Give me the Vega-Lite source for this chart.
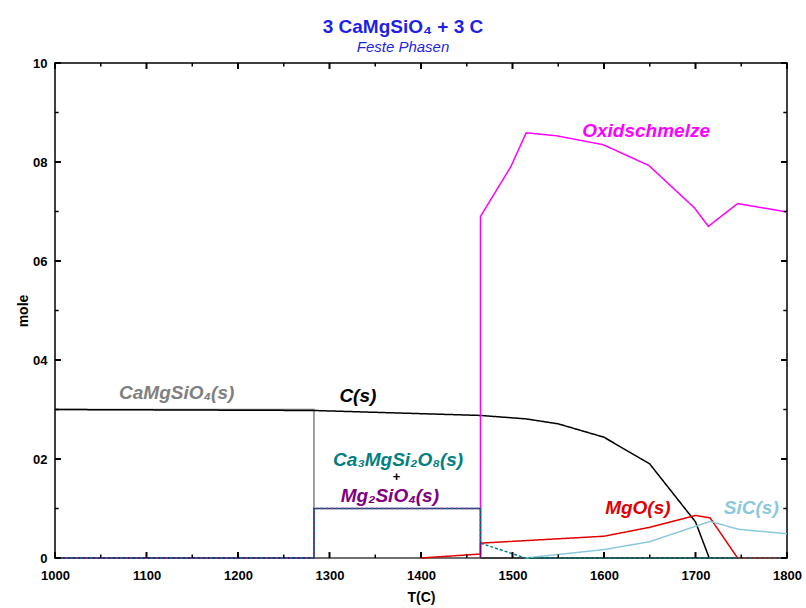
{
  "$schema": "https://vega.github.io/schema/vega-lite/v6.json",
  "width": 732,
  "height": 495,
  "autosize": {"type": "none"},
  "padding": {"left": 55, "top": 63, "right": 19, "bottom": 50},
  "background": "white",
  "title": {
    "text": "3 CaMgSiO₄ + 3 C",
    "subtitle": "Feste Phasen",
    "font": "Liberation Sans",
    "fontSize": 19,
    "fontWeight": "bold",
    "color": "#1F1FE6",
    "subtitleFont": "Liberation Sans",
    "subtitleFontSize": 15,
    "subtitleFontStyle": "italic",
    "subtitleFontWeight": "normal",
    "subtitleColor": "#1F1FE6",
    "anchor": "middle",
    "frame": "group",
    "dx": -18,
    "offset": 2,
    "subtitlePadding": 3
  },
  "datasets": {
    "lines": [
      {"s": "CaMgSiO4", "k": 0, "T": 1000, "m": 0.30},
      {"s": "CaMgSiO4", "k": 1, "T": 1283, "m": 0.30},
      {"s": "CaMgSiO4", "k": 2, "T": 1283, "m": 0},
      {"s": "CaMgSiO4", "k": 3, "T": 1465, "m": 0},
      {"s": "C", "k": 0, "T": 1000, "m": 0.30},
      {"s": "C", "k": 1, "T": 1283, "m": 0.298},
      {"s": "C", "k": 2, "T": 1465, "m": 0.288},
      {"s": "C", "k": 3, "T": 1515, "m": 0.281},
      {"s": "C", "k": 4, "T": 1550, "m": 0.271},
      {"s": "C", "k": 5, "T": 1600, "m": 0.244},
      {"s": "C", "k": 6, "T": 1650, "m": 0.19},
      {"s": "C", "k": 7, "T": 1700, "m": 0.073},
      {"s": "C", "k": 8, "T": 1715, "m": 0},
      {"s": "Oxidschmelze", "k": 0, "T": 1465, "m": 0},
      {"s": "Oxidschmelze", "k": 1, "T": 1465, "m": 0.690},
      {"s": "Oxidschmelze", "k": 2, "T": 1498, "m": 0.790},
      {"s": "Oxidschmelze", "k": 3, "T": 1515, "m": 0.859},
      {"s": "Oxidschmelze", "k": 4, "T": 1548, "m": 0.853},
      {"s": "Oxidschmelze", "k": 5, "T": 1599, "m": 0.835},
      {"s": "Oxidschmelze", "k": 6, "T": 1649, "m": 0.793},
      {"s": "Oxidschmelze", "k": 7, "T": 1699, "m": 0.707},
      {"s": "Oxidschmelze", "k": 8, "T": 1714, "m": 0.670},
      {"s": "Oxidschmelze", "k": 9, "T": 1746, "m": 0.716},
      {"s": "Oxidschmelze", "k": 10, "T": 1800, "m": 0.699},
      {"s": "MgO", "k": 0, "T": 1400, "m": 0},
      {"s": "MgO", "k": 1, "T": 1465, "m": 0.008},
      {"s": "MgO", "k": 2, "T": 1465, "m": 0.030},
      {"s": "MgO", "k": 3, "T": 1600, "m": 0.044},
      {"s": "MgO", "k": 4, "T": 1650, "m": 0.062},
      {"s": "MgO", "k": 5, "T": 1700, "m": 0.086},
      {"s": "MgO", "k": 6, "T": 1716, "m": 0.081},
      {"s": "MgO", "k": 7, "T": 1746, "m": 0},
      {"s": "MgO", "k": 8, "T": 1800, "m": 0},
      {"s": "SiC", "k": 0, "T": 1514, "m": 0},
      {"s": "SiC", "k": 1, "T": 1600, "m": 0.017},
      {"s": "SiC", "k": 2, "T": 1650, "m": 0.033},
      {"s": "SiC", "k": 3, "T": 1716, "m": 0.074},
      {"s": "SiC", "k": 4, "T": 1747, "m": 0.058},
      {"s": "SiC", "k": 5, "T": 1800, "m": 0.049},
      {"s": "Mg2SiO4", "k": 0, "T": 1000, "m": 0},
      {"s": "Mg2SiO4", "k": 1, "T": 1283, "m": 0},
      {"s": "Mg2SiO4", "k": 2, "T": 1283, "m": 0.1},
      {"s": "Mg2SiO4", "k": 3, "T": 1465, "m": 0.1},
      {"s": "Mg2SiO4", "k": 4, "T": 1465, "m": 0},
      {"s": "Ca3MgSi2O8", "k": 0, "T": 1000, "m": 0},
      {"s": "Ca3MgSi2O8", "k": 1, "T": 1283, "m": 0},
      {"s": "Ca3MgSi2O8", "k": 2, "T": 1283, "m": 0.1},
      {"s": "Ca3MgSi2O8", "k": 3, "T": 1465, "m": 0.1},
      {"s": "Ca3MgSi2O8", "k": 4, "T": 1465, "m": 0.03},
      {"s": "Ca3MgSi2O8", "k": 5, "T": 1514, "m": 0},
      {"s": "Ca3MgSi2O8", "k": 6, "T": 1800, "m": 0}
    ],
    "labels": [
      {"t": "CaMgSiO₄(s)", "s": "CaMgSiO4", "T": 1133, "m": 0.334, "f": 19},
      {"t": "C(s)", "s": "C", "T": 1331, "m": 0.328, "f": 19},
      {"t": "Ca₃MgSi₂O₈(s)", "s": "Ca3MgSi2O8", "T": 1375, "m": 0.197, "f": 19},
      {"t": "+", "s": "C", "T": 1373, "m": 0.163, "f": 13},
      {"t": "Mg₂SiO₄(s)", "s": "Mg2SiO4", "T": 1366, "m": 0.126, "f": 19},
      {"t": "MgO(s)", "s": "MgO", "T": 1637, "m": 0.101, "f": 19},
      {"t": "SiC(s)", "s": "SiC", "T": 1761, "m": 0.101, "f": 19},
      {"t": "Oxidschmelze", "s": "Oxidschmelze", "T": 1646, "m": 0.862, "f": 19}
    ],
    "xticks": [
      {"v": 1000, "g": "major"}, {"v": 1050, "g": "minor"}, {"v": 1100, "g": "major"}, {"v": 1150, "g": "minor"},
      {"v": 1200, "g": "major"}, {"v": 1250, "g": "minor"}, {"v": 1300, "g": "major"}, {"v": 1350, "g": "minor"},
      {"v": 1400, "g": "major"}, {"v": 1450, "g": "minor"}, {"v": 1500, "g": "major"}, {"v": 1550, "g": "minor"},
      {"v": 1600, "g": "major"}, {"v": 1650, "g": "minor"}, {"v": 1700, "g": "major"}, {"v": 1750, "g": "minor"},
      {"v": 1800, "g": "major"}
    ],
    "yticks": [
      {"v": 0, "g": "major"}, {"v": 0.1, "g": "minor"}, {"v": 0.2, "g": "major"}, {"v": 0.3, "g": "minor"},
      {"v": 0.4, "g": "major"}, {"v": 0.5, "g": "minor"}, {"v": 0.6, "g": "major"}, {"v": 0.7, "g": "minor"},
      {"v": 0.8, "g": "major"}, {"v": 0.9, "g": "minor"}, {"v": 1.0, "g": "major"}
    ]
  },
  "resolve": {"axis": {"x": "independent", "y": "independent"}},
  "layer": [
    {
      "data": {"name": "lines"},
      "mark": {"type": "line", "strokeWidth": 1.5},
      "encoding": {
        "x": {
          "field": "T", "type": "quantitative",
          "scale": {"domain": [1000, 1800], "nice": false, "zero": false},
          "axis": {
            "orient": "bottom", "title": "T(C)", "values": [1000, 1100, 1200, 1300, 1400, 1500, 1600, 1700, 1800],
            "ticks": false, "tickSize": 0, "domain": false, "grid": false, "format": "d",
            "labelFont": "Liberation Sans", "labelFontWeight": "bold", "labelFontSize": 13, "labelColor": "black",
            "labelPadding": 11, "labelFlush": false,
            "titleFont": "Liberation Sans", "titleFontWeight": "bold", "titleFontSize": 14, "titleColor": "black", "titlePadding": 8
          }
        },
        "y": {
          "field": "m", "type": "quantitative",
          "scale": {"domain": [0, 1], "nice": false},
          "axis": {
            "orient": "left", "title": "mole", "values": [0, 0.2, 0.4, 0.6, 0.8, 1.0],
            "labelExpr": "datum.value == 0 ? '0' : (datum.value > 0.99 ? '10' : '0' + round(datum.value * 10))",
            "ticks": false, "tickSize": 0, "domain": false, "grid": false,
            "labelFont": "Liberation Sans", "labelFontWeight": "bold", "labelFontSize": 13, "labelColor": "black",
            "labelPadding": 8, "labelFlush": false,
            "titleFont": "Liberation Sans", "titleFontWeight": "bold", "titleFontSize": 14, "titleColor": "black", "titlePadding": 2
          }
        },
        "color": {
          "field": "s", "type": "nominal", "legend": null,
          "scale": {
            "domain": ["CaMgSiO4", "C", "Oxidschmelze", "MgO", "SiC", "Mg2SiO4", "Ca3MgSi2O8"],
            "range": ["#808080", "#000000", "#FF00FF", "#E00000", "#8CC8DC", "#800080", "#008080"]
          }
        },
        "strokeDash": {
          "field": "s", "type": "nominal", "legend": null,
          "scale": {
            "domain": ["CaMgSiO4", "C", "Oxidschmelze", "MgO", "SiC", "Mg2SiO4", "Ca3MgSi2O8"],
            "range": [[1, 0], [1, 0], [1, 0], [1, 0], [1, 0], [1, 0], [3, 2]]
          }
        },
        "order": {"field": "k", "type": "quantitative"}
      }
    },
    {
      "data": {"name": "labels"},
      "mark": {"type": "text", "font": "Liberation Sans", "fontWeight": "bold", "fontStyle": "italic", "baseline": "middle", "align": "center"},
      "encoding": {
        "x": {"field": "T", "type": "quantitative", "axis": null},
        "y": {"field": "m", "type": "quantitative", "axis": null},
        "text": {"field": "t", "type": "nominal"},
        "size": {"field": "f", "type": "quantitative", "scale": null, "legend": null},
        "color": {"field": "s", "type": "nominal", "legend": null}
      }
    },
    {
      "data": {"name": "xticks"},
      "transform": [{"filter": "datum.g == 'major'"}],
      "mark": {"type": "rule", "strokeWidth": 2, "color": "black"},
      "encoding": {
        "x": {"field": "v", "type": "quantitative", "axis": null},
        "y": {"datum": 0, "type": "quantitative", "axis": null},
        "y2": {"datum": 0.012}
      }
    },
    {
      "data": {"name": "xticks"},
      "transform": [{"filter": "datum.g == 'minor'"}],
      "mark": {"type": "rule", "strokeWidth": 1.5, "color": "black"},
      "encoding": {
        "x": {"field": "v", "type": "quantitative", "axis": null},
        "y": {"datum": 0, "type": "quantitative", "axis": null},
        "y2": {"datum": 0.007}
      }
    },
    {
      "data": {"name": "xticks"},
      "transform": [{"filter": "datum.g == 'major'"}],
      "mark": {"type": "rule", "strokeWidth": 2, "color": "black"},
      "encoding": {
        "x": {"field": "v", "type": "quantitative", "axis": null},
        "y": {"datum": 1, "type": "quantitative", "axis": null},
        "y2": {"datum": 0.988}
      }
    },
    {
      "data": {"name": "xticks"},
      "transform": [{"filter": "datum.g == 'minor'"}],
      "mark": {"type": "rule", "strokeWidth": 1.5, "color": "black"},
      "encoding": {
        "x": {"field": "v", "type": "quantitative", "axis": null},
        "y": {"datum": 1, "type": "quantitative", "axis": null},
        "y2": {"datum": 0.993}
      }
    },
    {
      "data": {"name": "yticks"},
      "transform": [{"filter": "datum.g == 'major'"}],
      "mark": {"type": "rule", "strokeWidth": 2, "color": "black"},
      "encoding": {
        "y": {"field": "v", "type": "quantitative", "axis": null},
        "x": {"datum": 1000, "type": "quantitative", "axis": null},
        "x2": {"datum": 1006.5}
      }
    },
    {
      "data": {"name": "yticks"},
      "transform": [{"filter": "datum.g == 'minor'"}],
      "mark": {"type": "rule", "strokeWidth": 1.5, "color": "black"},
      "encoding": {
        "y": {"field": "v", "type": "quantitative", "axis": null},
        "x": {"datum": 1000, "type": "quantitative", "axis": null},
        "x2": {"datum": 1004}
      }
    },
    {
      "data": {"name": "yticks"},
      "transform": [{"filter": "datum.g == 'major'"}],
      "mark": {"type": "rule", "strokeWidth": 2, "color": "black"},
      "encoding": {
        "y": {"field": "v", "type": "quantitative", "axis": null},
        "x": {"datum": 1800, "type": "quantitative", "axis": null},
        "x2": {"datum": 1793.5}
      }
    },
    {
      "data": {"name": "yticks"},
      "transform": [{"filter": "datum.g == 'minor'"}],
      "mark": {"type": "rule", "strokeWidth": 1.5, "color": "black"},
      "encoding": {
        "y": {"field": "v", "type": "quantitative", "axis": null},
        "x": {"datum": 1800, "type": "quantitative", "axis": null},
        "x2": {"datum": 1796}
      }
    }
  ],
  "config": {
    "view": {"stroke": "black", "strokeWidth": 1.5},
    "font": "Liberation Sans"
  }
}
